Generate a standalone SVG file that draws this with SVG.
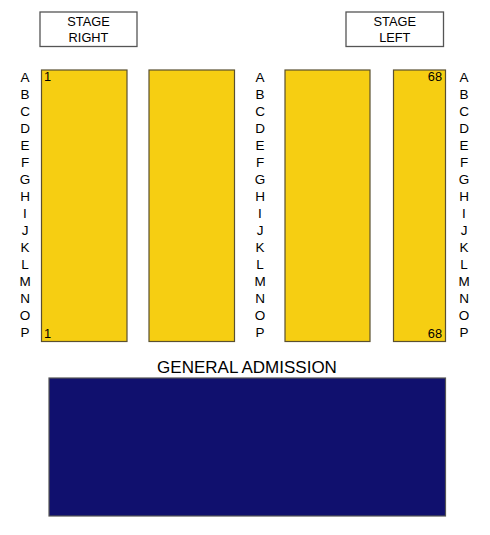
<svg xmlns="http://www.w3.org/2000/svg" width="490" height="535" viewBox="0 0 490 535">
<style>
text{font-family:"Liberation Sans",Arial,sans-serif;fill:#000}
.stage{fill:#fff;stroke:#555;stroke-width:1.3}
.sec{fill:#F6CE12;stroke:#5a5030;stroke-width:1.2}
.ga{fill:#10106E;stroke:#555;stroke-width:1.2}
.st{font-size:12.8px;text-anchor:middle}
.row{font-size:13.5px;text-anchor:middle}
.num{font-size:12.8px}
</style>
<rect width="490" height="535" fill="#fff"/>
<g id="stage-right"><rect class="stage" x="40" y="12" width="97" height="34.5"/><text class="st" x="88.5" y="26">STAGE</text><text class="st" x="88.5" y="42">RIGHT</text></g>
<g id="stage-left"><rect class="stage" x="346" y="12" width="97.5" height="34.5"/><text class="st" x="394.8" y="26">STAGE</text><text class="st" x="394.8" y="42">LEFT</text></g>
<g id="section-1"><rect class="sec" x="41.5" y="70" width="85.5" height="271.5"/><text class="num" x="44" y="81">1</text><text class="num" x="44" y="338">1</text></g>
<g id="section-2"><rect class="sec" x="149" y="70" width="85.5" height="271.5"/></g>
<g id="section-3"><rect class="sec" x="285" y="70" width="85" height="271.5"/></g>
<g id="section-4"><rect class="sec" x="393.5" y="70" width="52" height="271.5"/><text class="num" x="442" y="81" text-anchor="end">68</text><text class="num" x="442" y="338" text-anchor="end">68</text></g>
<g id="general-admission"><text x="247" y="372.5" font-size="17" text-anchor="middle">GENERAL ADMISSION</text><rect class="ga" x="49" y="378" width="396.5" height="138"/></g>
<g id="row-labels-left">
<text class="row" x="25" y="82">A</text><text class="row" x="25" y="99">B</text><text class="row" x="25" y="116">C</text><text class="row" x="25" y="133">D</text><text class="row" x="25" y="150">E</text><text class="row" x="25" y="167">F</text><text class="row" x="25" y="184">G</text><text class="row" x="25" y="201">H</text><text class="row" x="25" y="218">I</text><text class="row" x="25" y="235">J</text><text class="row" x="25" y="252">K</text><text class="row" x="25" y="269">L</text><text class="row" x="25" y="286">M</text><text class="row" x="25" y="303">N</text><text class="row" x="25" y="320">O</text><text class="row" x="25" y="337">P</text>
</g>
<g id="row-labels-center">
<text class="row" x="260" y="82">A</text><text class="row" x="260" y="99">B</text><text class="row" x="260" y="116">C</text><text class="row" x="260" y="133">D</text><text class="row" x="260" y="150">E</text><text class="row" x="260" y="167">F</text><text class="row" x="260" y="184">G</text><text class="row" x="260" y="201">H</text><text class="row" x="260" y="218">I</text><text class="row" x="260" y="235">J</text><text class="row" x="260" y="252">K</text><text class="row" x="260" y="269">L</text><text class="row" x="260" y="286">M</text><text class="row" x="260" y="303">N</text><text class="row" x="260" y="320">O</text><text class="row" x="260" y="337">P</text>
</g>
<g id="row-labels-right">
<text class="row" x="464" y="82">A</text><text class="row" x="464" y="99">B</text><text class="row" x="464" y="116">C</text><text class="row" x="464" y="133">D</text><text class="row" x="464" y="150">E</text><text class="row" x="464" y="167">F</text><text class="row" x="464" y="184">G</text><text class="row" x="464" y="201">H</text><text class="row" x="464" y="218">I</text><text class="row" x="464" y="235">J</text><text class="row" x="464" y="252">K</text><text class="row" x="464" y="269">L</text><text class="row" x="464" y="286">M</text><text class="row" x="464" y="303">N</text><text class="row" x="464" y="320">O</text><text class="row" x="464" y="337">P</text>
</g>
<g id="connectors"/>
</svg>
